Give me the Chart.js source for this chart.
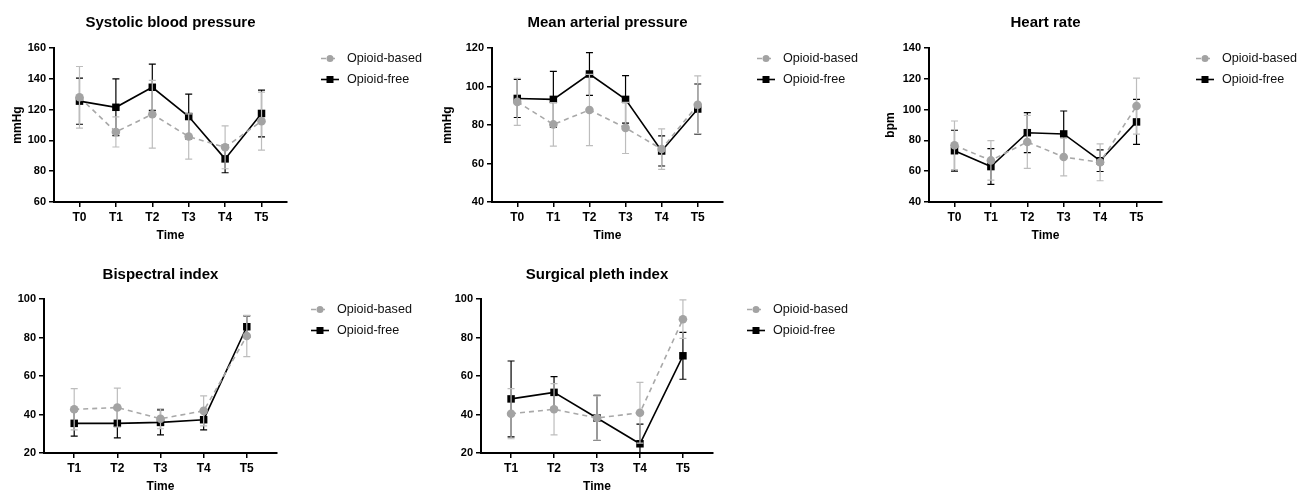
<!DOCTYPE html>
<html>
<head>
<meta charset="utf-8">
<script src="https://cdn.jsdelivr.net/npm/chart.js@4.4.1/dist/chart.umd.min.js"></script>
<style>
  html, body { margin: 0; padding: 0; background: #fff; overflow: hidden; }
  canvas { position: absolute; }
</style>
</head>
<body>
<canvas id="sbp" width="430" height="247" style="left:0;top:0"></canvas>
<canvas id="map" width="430" height="247" style="left:430px;top:0"></canvas>
<canvas id="hr" width="447" height="247" style="left:860px;top:0"></canvas>
<canvas id="bis" width="430" height="247" style="left:0;top:247px"></canvas>
<canvas id="spi" width="430" height="247" style="left:430px;top:247px"></canvas>
<script>
// time points
const timesAll = ['T0', 'T1', 'T2', 'T3', 'T4', 'T5'];
const timesLate = ['T1', 'T2', 'T3', 'T4', 'T5'];

// systolic blood pressure (mean, SD)
const sbpBased = [128, 105.5, 117, 102.5, 95.5, 112.5];
const sbpBasedSd = [20, 9.8, 22, 14.7, 13.9, 18.8];
const sbpFree = [125.5, 121.5, 134.5, 115.5, 88, 117.5];
const sbpFreeSd = [15, 18.4, 15, 14.5, 9, 15.2];

// mean arterial pressure
const mapBased = [92, 80.3, 87.8, 78.5, 67.5, 90.5];
const mapBasedSd = [12.2, 11.3, 18.5, 13.3, 10.5, 15];
const mapFree = [93.8, 93.3, 106.5, 93.3, 66.5, 88.3];
const mapFreeSd = [9.9, 14.6, 11.1, 12.3, 7.8, 13];

// heart rate
const hrBased = [76.8, 67, 79, 69.2, 65.8, 102.3];
const hrBasedSd = [15.8, 12.8, 17.2, 12.3, 12, 18.2];
const hrFree = [73.3, 63, 85, 84.2, 66.8, 92];
const hrFreeSd = [13.3, 11.6, 13, 14.9, 7, 14.6];

// bispectral index
const bisBased = [42.7, 43.6, 37.8, 41.9, 80.8];
const bisBasedSd = [10.7, 10.1, 5.2, 7.8, 10.7];
const bisFree = [35.4, 35.4, 35.9, 37.3, 85.6];
const bisFreeSd = [6.6, 7.5, 6.5, 5.3, 5.6];

// surgical pleth index
const spiBased = [40.4, 42.7, 38.2, 40.9, 89.5];
const spiBasedSd = [13, 13.3, 11.5, 15.8, 10];
const spiFree = [48.1, 51.5, 38.2, 24.8, 70.5];
const spiFreeSd = [19.7, 8.2, 11.7, 10.2, 12.2];

Chart.defaults.font.family = '"Liberation Sans", Arial, sans-serif';
Chart.defaults.color = '#000';

// draws mean +/- SD whiskers under each dataset
const errorBars = {
    id: 'errorBars',
    beforeDatasetDraw(chart, args) {
        const ds = chart.data.datasets[args.index];
        const { ctx, chartArea, scales: { x, y } } = chart;
        ctx.save();
        ctx.beginPath();
        ctx.rect(chartArea.left, chartArea.top - 1, chartArea.width, chartArea.height + 1);
        ctx.clip();
        ctx.strokeStyle = ds.errorColor;
        ctx.lineWidth = 1.2;
        ds.data.forEach((p, i) => {
            const px = x.getPixelForValue(p.x);
            const hi = y.getPixelForValue(p.y + ds.sd[i]);
            const lo = y.getPixelForValue(p.y - ds.sd[i]);
            ctx.beginPath();
            ctx.moveTo(px, hi); ctx.lineTo(px, lo);
            ctx.moveTo(px - 3.5, hi); ctx.lineTo(px + 3.5, hi);
            ctx.moveTo(px - 3.5, lo); ctx.lineTo(px + 3.5, lo);
            ctx.stroke();
        });
        ctx.restore();
    }
};

// legend to the right of the plot, line + marker like the original
const sideLegend = {
    id: 'sideLegend',
    afterDraw(chart) {
        const { ctx, chartArea } = chart;
        const x0 = chartArea.right + 34;
        chart.data.datasets.forEach((ds, i) => {
            const yy = chartArea.top + 10.5 + i * 21;
            ctx.save();
            ctx.strokeStyle = ds.borderColor;
            ctx.lineWidth = ds.borderWidth;
            ctx.setLineDash(ds.borderDash || []);
            ctx.beginPath();
            ctx.moveTo(x0, yy);
            ctx.lineTo(x0 + 18, yy);
            ctx.stroke();
            ctx.setLineDash([]);
            ctx.fillStyle = ds.pointBackgroundColor;
            ctx.beginPath();
            if (ds.pointStyle === 'rect') {
                ctx.rect(x0 + 5.5, yy - 3.5, 7, 7);
            } else {
                ctx.arc(x0 + 9, yy, 3.5, 0, Math.PI * 2);
            }
            ctx.fill();
            ctx.fillStyle = '#111';
            ctx.font = '12.6px "Liberation Sans", Arial, sans-serif';
            ctx.textBaseline = 'middle';
            ctx.fillText(ds.label, x0 + 26, yy);
            ctx.restore();
        });
    }
};

function points(values) {
    return values.map((v, i) => ({ x: i, y: v }));
}

function makePanel(id, cfg) {
    const ctx = document.getElementById(id).getContext('2d');
    return new Chart(ctx, {
        type: 'line',
        data: {
            datasets: [{
                label: 'Opioid-based',
                data: points(cfg.based),
                sd: cfg.basedSd,
                errorColor: '#bdbdbd',
                borderColor: '#a8a8a8',
                borderWidth: 1.6,
                borderDash: [5, 4],
                pointStyle: 'circle',
                pointRadius: 4.3,
                pointBackgroundColor: '#a3a3a3',
                pointBorderColor: '#a3a3a3',
                pointBorderWidth: 0
            }, {
                label: 'Opioid-free',
                data: points(cfg.free),
                sd: cfg.freeSd,
                errorColor: '#000',
                borderColor: '#000',
                borderWidth: 1.6,
                pointStyle: 'rect',
                pointRadius: 5.3,
                pointBackgroundColor: '#000',
                pointBorderColor: '#000',
                pointBorderWidth: 0
            }]
        },
        options: {
            responsive: false,
            animation: false,
            layout: { padding: { left: 0, right: cfg.padRight, top: 0, bottom: 0 } },
            plugins: {
                legend: { display: false },
                tooltip: { enabled: false },
                title: {
                    display: true,
                    text: cfg.title,
                    fullSize: false,
                    color: '#000',
                    font: { size: 15, weight: 'bold' },
                    padding: { top: cfg.titleTop, bottom: cfg.titleBottom }
                }
            },
            scales: {
                x: {
                    type: 'linear',
                    min: -0.7,
                    max: cfg.labels.length - 1 + 0.7,
                    afterBuildTicks: (scale) => {
                        scale.ticks = cfg.labels.map((_, i) => ({ value: i }));
                    },
                    afterFit: (scale) => { scale.height = cfg.xHeight; },
                    border: { display: true, color: '#000', width: 2 },
                    grid: { drawOnChartArea: false, drawTicks: true, tickLength: 5, color: '#000', lineWidth: 1.5 },
                    ticks: {
                        padding: 3,
                        font: { size: 12, weight: 'bold' },
                        callback: (v) => cfg.labels[v]
                    },
                    title: {
                        display: true,
                        text: 'Time',
                        font: { size: 12, weight: 'bold' },
                        padding: { top: 0, bottom: cfg.timePad }
                    }
                },
                y: {
                    min: cfg.yMin,
                    max: cfg.yMax,
                    afterFit: (scale) => { scale.width = cfg.yWidth; },
                    border: { display: true, color: '#000', width: 2 },
                    grid: { drawOnChartArea: false, drawTicks: true, tickLength: 5, color: '#000', lineWidth: 1.5 },
                    ticks: {
                        stepSize: 20,
                        padding: 3,
                        font: { size: 11, weight: 'bold' }
                    },
                    title: {
                        display: !!cfg.unit,
                        text: cfg.unit || '',
                        font: { size: 12, weight: 'bold' },
                        padding: { top: cfg.unitPad || 0, bottom: 0 }
                    }
                }
            }
        },
        plugins: [errorBars, sideLegend]
    });
}

makePanel('sbp', {
    title: 'Systolic blood pressure', unit: 'mmHg', labels: timesAll,
    based: sbpBased, basedSd: sbpBasedSd, free: sbpFree, freeSd: sbpFreeSd,
    yMin: 60, yMax: 160, yWidth: 54, unitPad: 10, padRight: 143,
    titleTop: 14, titleBottom: 16, xHeight: 45, timePad: 4
});
makePanel('map', {
    title: 'Mean arterial pressure', unit: 'mmHg', labels: timesAll,
    based: mapBased, basedSd: mapBasedSd, free: mapFree, freeSd: mapFreeSd,
    yMin: 40, yMax: 120, yWidth: 62, unitPad: 10, padRight: 137,
    titleTop: 14, titleBottom: 16, xHeight: 45, timePad: 4
});
makePanel('hr', {
    title: 'Heart rate', unit: 'bpm', labels: timesAll,
    based: hrBased, basedSd: hrBasedSd, free: hrFree, freeSd: hrFreeSd,
    yMin: 40, yMax: 140, yWidth: 69, unitPad: 23, padRight: 145,
    titleTop: 14, titleBottom: 16, xHeight: 45, timePad: 4
});
makePanel('bis', {
    title: 'Bispectral index', labels: timesLate,
    based: bisBased, basedSd: bisBasedSd, free: bisFree, freeSd: bisFreeSd,
    yMin: 20, yMax: 100, yWidth: 44, padRight: 153,
    titleTop: 19, titleBottom: 15, xHeight: 41, timePad: 0
});
makePanel('spi', {
    title: 'Surgical pleth index', labels: timesLate,
    based: spiBased, basedSd: spiBasedSd, free: spiFree, freeSd: spiFreeSd,
    yMin: 20, yMax: 100, yWidth: 51, padRight: 147,
    titleTop: 19, titleBottom: 15, xHeight: 41, timePad: 0
});
</script>
</body>
</html>
